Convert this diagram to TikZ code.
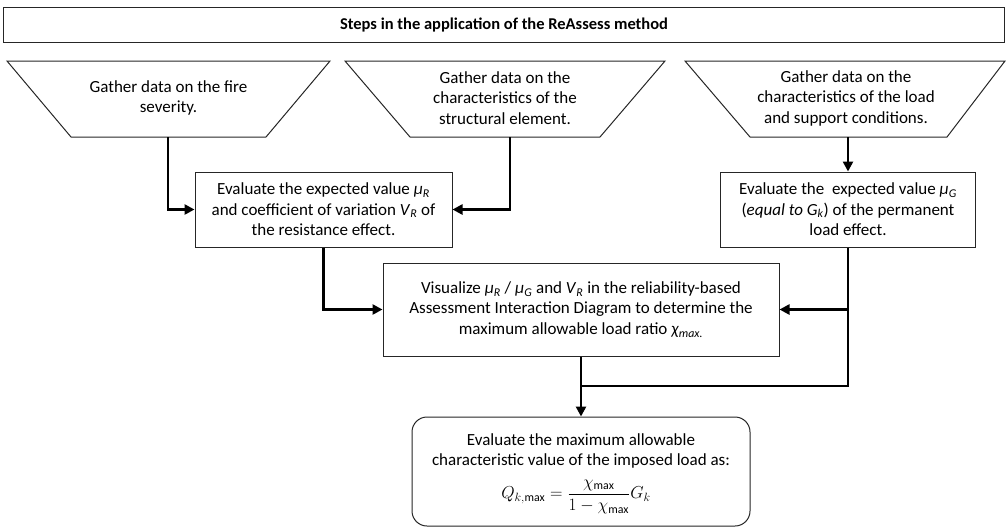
\documentclass[tikz,border=0pt]{standalone}
\usepackage{fontspec}
\setmainfont{Carlito}
\usetikzlibrary{arrows.meta}
\newcommand{\isub}[2]{\textit{#1}\textsubscript{\textit{#2}}}
\begin{document}
\begin{tikzpicture}[x=1pt,y=-1pt,
  font=\fontsize{17}{20.5}\selectfont,
  box/.style={draw=black!85, line width=1pt, align=center, inner sep=0pt, fill=white},
  trap/.style={draw=black!85, line width=1pt},
  txt/.style={align=center, inner sep=0pt},
  arr/.style={line width=2.8pt, -{Triangle[length=10pt,width=10pt]}},
  ln/.style={line width=2.8pt}]
\useasboundingbox (0,0) rectangle (1006,528);

% title
\node[box, minimum width=1001pt, minimum height=35pt, font=\fontsize{16.5}{19}\selectfont\bfseries] (title) at (504,24.5) {Steps in the application of the ReAssess method};

% trapezoids
\draw[trap] (7,61) -- (330,61) -- (266,137) -- (71,137) -- cycle;
\draw[trap] (345,61) -- (665,61) -- (600,137) -- (410,137) -- cycle;
\draw[trap] (685,61) -- (1005,61) -- (947,137) -- (750,137) -- cycle;
\node[txt] (t1) at (168.5,98) {Gather data on the fire\\severity.};
\node[txt] (t2) at (505,98) {Gather data on the\\characteristics of the\\structural element.};
\node[txt] (t3) at (846,98) {Gather data on the\\characteristics of the load\\and support conditions.};
\coordinate (t1b) at (168,137);
\coordinate (t2b) at (510,137);
\coordinate (t3b) at (848,137);

% boxes
\node[box, minimum width=257pt, minimum height=75pt] (bR) at (323.5,209.5)
  {Evaluate the expected value \isub{μ}{R}\\and coefficient of variation \isub{V}{R} of\\the resistance effect.};
\node[box, minimum width=255pt, minimum height=75pt] (bG) at (848,209.5)
  {Evaluate the\ \ expected value \isub{μ}{G}\\(\textit{equal to} \isub{G}{k}) of the permanent\\load effect.};
\node[box, minimum width=396pt, minimum height=93pt] (bC) at (581,309.5)
  {Visualize \isub{μ}{R} / \isub{μ}{G} and \isub{V}{R} in the reliability-based\\Assessment Interaction Diagram to determine the\\maximum allowable load ratio \textit{χ}\textsubscript{\textit{max.}}};
\node[box, rounded corners=15pt, minimum width=338pt, minimum height=109pt] (bB) at (581,471.5) {};
\node[txt] (bBt) at (581,451) {Evaluate the maximum allowable\\characteristic value of the imposed load as:};
\node[txt] (bBf) at (576,497) {$\displaystyle Q_{k,\max}=\frac{\chi_{\max}}{1-\chi_{\max}}G_k$};
\coordinate (jn) at (581,386);

% connectors
\draw[arr] (t1b) |- (bR.west);
\draw[arr] (t2b) |- (bR.east);
\draw[arr] (t3b) -- (bG.north);
\draw[arr] (bR.south) |- (bC.west);
\draw[ln] (bG.south) |- (jn);
\draw[arr] (bG.south) |- (bC.east);
\draw[arr] (bC.south) -- (bB.north);
\end{tikzpicture}
\end{document}
